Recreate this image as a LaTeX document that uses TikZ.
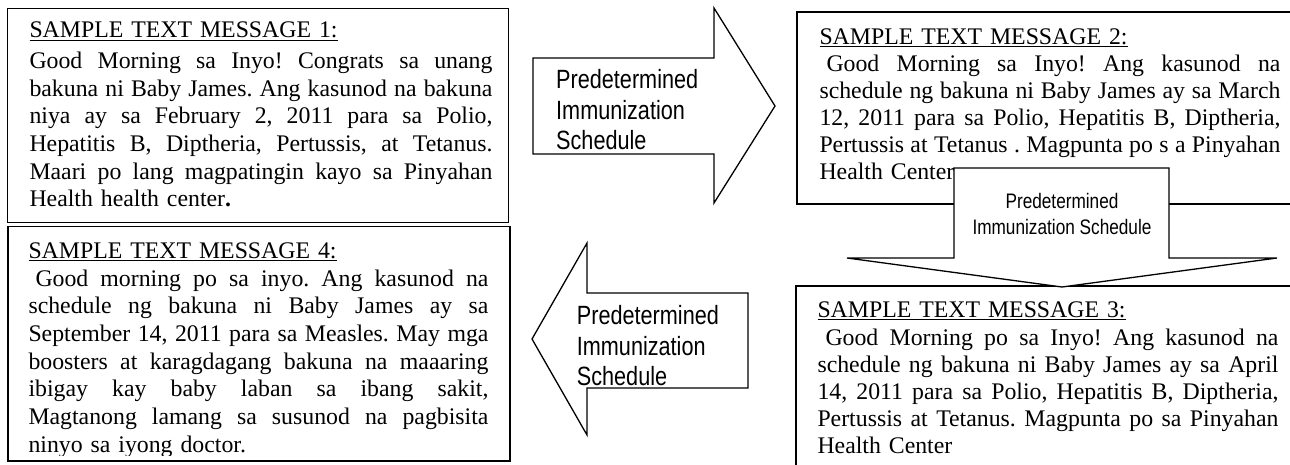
\documentclass[tikz,border=0pt]{standalone}
\usepackage{fontspec}
\setmainfont{Liberation Serif}
\setsansfont{Liberation Sans}
\newfontfamily\arrowfont[FakeStretch=0.82]{Liberation Sans}
\newcommand\myul[1]{\setbox0\hbox{#1}\rlap{\rule[-2.8pt]{\wd0}{1.1pt}}\box0}
% justified line: words separated by \hfill inside a box of fixed width
\def\jlw#1 #2\jlstop{#1\if\relax\detokenize{#2}\relax\else\hfill\jlw#2\jlstop\fi}
\newcommand\jl[3][0]{\leavevmode\hbox to #2pt{\kern#1pt\jlw#3 \jlstop}}
\tikzset{
  msgbox/.style={draw=black, line width=1.6pt},
  msgtext/.style={anchor=north west, inner sep=0pt, text width=480pt, align=left,
    font=\fontsize{23.8}{#1}\selectfont},
  msgtext/.default=27.7,
  blockarrow/.style={draw=black, line width=1.3pt, fill=white, line join=miter},
  arrowtext/.style={anchor=north west, inner sep=0pt, align=left,
    font=\arrowfont\fontsize{26.4}{30.5}\selectfont},
  smallarrowtext/.style={anchor=north, inner sep=0pt, align=center,
    font=\arrowfont\fontsize{21}{25.5}\selectfont},
}
\begin{document}
\begin{tikzpicture}[x=1pt,y=-1pt]
\useasboundingbox (0,0) rectangle (1290,465);
\clip (0,0) rectangle (1290,465);
\fill[white] (0,0) rectangle (1290,465);

% message boxes
\draw[msgbox] (7.5,8.5) rectangle (508.5,222.5);
\draw[msgbox] (8,226.5) rectangle (510,461);
\draw[msgbox] (797,12) rectangle (1310,204);
\draw[msgbox] (796,286) rectangle (1310,490);

% box 1
\node[msgtext] (m1) at (29.3,18.3) {\strut\myul{SAMPLE TEXT MESSAGE 1:}\\[2.9pt]
\jl{463}{Good Morning sa Inyo! Congrats sa unang}\\
\jl{463}{bakuna ni Baby James. Ang kasunod na bakuna}\\
\jl{463}{niya ay sa February 2, 2011 para sa Polio,}\\
\jl{463}{Hepatitis B, Diptheria, Pertussis, at Tetanus.}\\
\jl{463}{Maari po lang magpatingin kayo sa Pinyahan}\\
Health health center\textbf{.}};

% box 4 (text clipped at the bottom)
\begin{scope}
\clip (8,226) rectangle (510,455.2);
\node[msgtext] (m4) at (28.3,238.9) {\strut\myul{SAMPLE TEXT MESSAGE 4:}\\
\jl[7]{460}{Good morning po sa inyo. Ang kasunod na}\\
\jl{460}{schedule ng bakuna ni Baby James ay sa}\\
\jl{460}{September 14, 2011 para sa Measles. May mga}\\
\jl{460}{boosters at karagdagang bakuna na maaaring}\\
\jl{460}{ibigay kay baby laban sa ibang sakit,}\\
\jl{460}{Magtanong lamang sa susunod na pagbisita}\\
ninyo sa iyong doctor.};
\end{scope}

% box 2
\node[msgtext=27] (m2) at (819.3,25.4) {\strut\myul{SAMPLE TEXT MESSAGE 2:}\\[0.4pt]
\jl[7]{461}{Good Morning sa Inyo! Ang kasunod na}\\
\jl{461}{schedule ng bakuna ni Baby James ay sa March}\\
\jl{461}{12, 2011 para sa Polio, Hepatitis B, Diptheria,}\\
\jl{461}{Pertussis at Tetanus . Magpunta po s a Pinyahan}\\
Health Center};

% box 3
\node[msgtext=27] (m3) at (817.3,298.4) {\strut\myul{SAMPLE TEXT MESSAGE 3:}\\[0.7pt]
\jl[8]{461}{Good Morning po sa Inyo! Ang kasunod na}\\
\jl{461}{schedule ng bakuna ni Baby James ay sa April}\\
\jl{461}{14, 2011 para sa Polio, Hepatitis B, Diptheria,}\\
\jl{461}{Pertussis at Tetanus. Magpunta po sa Pinyahan}\\
Health Center};

% right arrow (1 -> 2)
\draw[blockarrow] (533,58) -- (714,58) -- (714,8) -- (775,106) -- (714,203)
  -- (714,154) -- (533,154) -- cycle;
\node[arrowtext] (a12) at (556,67) {\strut Predetermined\\Immunization\\Schedule};

% down arrow (2 -> 3)
\draw[blockarrow] (954,168) -- (1169,168) -- (1169,258) -- (1277,258) -- (1062,287)
  -- (847,258) -- (954,258) -- cycle;
\node[smallarrowtext] (a23) at (1062,190.5) {\strut Predetermined\\Immunization Schedule};

% left arrow (3 -> 4)
\draw[blockarrow] (532,339) -- (587,243) -- (587,293) -- (748,293) -- (748,388)
  -- (587,388) -- (587,435) -- cycle;
\node[arrowtext] (a34) at (576.7,303) {\strut Predetermined\\Immunization\\Schedule};
\end{tikzpicture}
\end{document}
